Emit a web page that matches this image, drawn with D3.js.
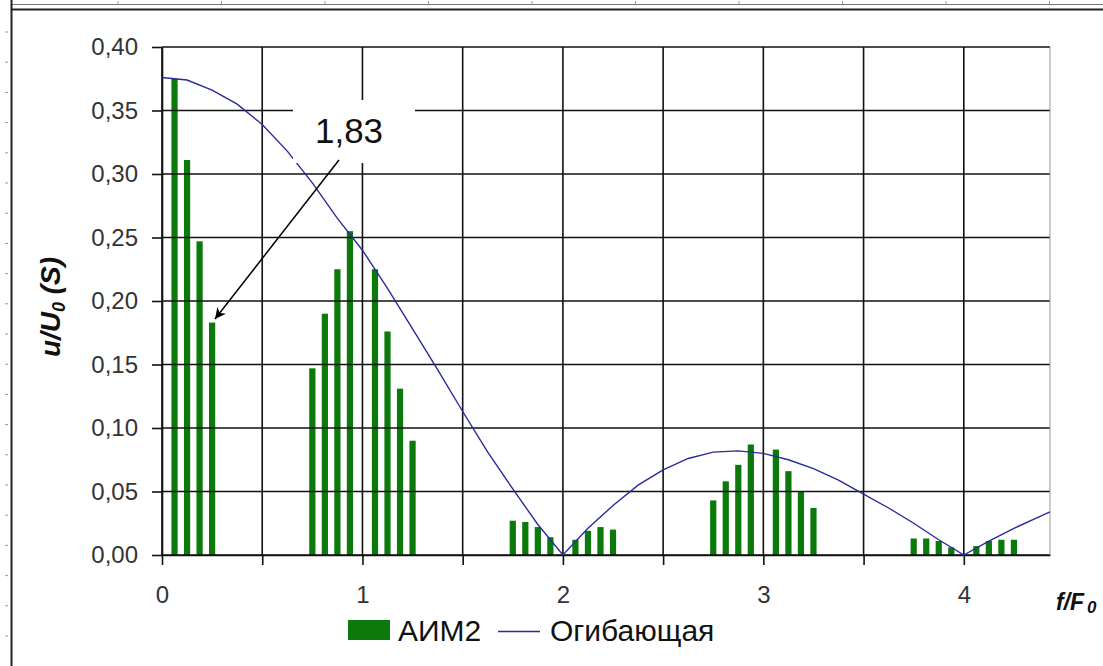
<!DOCTYPE html>
<html>
<head>
<meta charset="utf-8">
<script src="https://cdn.jsdelivr.net/npm/d3@7"></script>
<style>
  body { margin: 0; background: #fff; }
  svg { display: block; font-family: "Liberation Sans", Arial, sans-serif; }
</style>
</head>
<body>
<svg width="1103" height="666"></svg>
<script>
// АИМ2 spectrum lines (f/F0) and their amplitudes u/U0
const barFreqs = [
  0.0625, 0.125, 0.1875, 0.25,
  0.75, 0.8125, 0.875, 0.9375, 1.0625, 1.125, 1.1875, 1.25,
  1.75, 1.8125, 1.875, 1.9375, 2.0625, 2.125, 2.1875, 2.25,
  2.75, 2.8125, 2.875, 2.9375, 3.0625, 3.125, 3.1875, 3.25,
  3.75, 3.8125, 3.875, 3.9375, 4.0625, 4.125, 4.1875, 4.25
];
const barValues = [
  0.375, 0.311, 0.247, 0.183,
  0.147, 0.190, 0.225, 0.255, 0.225, 0.176, 0.131, 0.090,
  0.027, 0.026, 0.022, 0.014, 0.012, 0.019, 0.022, 0.020,
  0.043, 0.058, 0.071, 0.087, 0.083, 0.066, 0.050, 0.037,
  0.013, 0.013, 0.011, 0.006, 0.007, 0.011, 0.012, 0.012
];

// envelope (Огибающая)
const envFreqs = [0, 0.125, 0.25, 0.375, 0.5, 0.625, 0.75, 0.875, 1, 1.125, 1.25, 1.375,
  1.5, 1.625, 1.75, 1.875, 2, 2.125, 2.25, 2.375, 2.5, 2.625, 2.75, 2.875, 3, 3.125,
  3.25, 3.375, 3.5, 3.625, 3.75, 3.875, 4, 4.125, 4.25, 4.375, 4.43];
const envValues = [0.376, 0.374, 0.366, 0.355, 0.339, 0.318, 0.293, 0.265, 0.240, 0.210,
  0.178, 0.146, 0.113, 0.081, 0.052, 0.024, 0.000, 0.021, 0.039, 0.055, 0.067, 0.076,
  0.081, 0.082, 0.080, 0.075, 0.068, 0.059, 0.048, 0.037, 0.025, 0.012, 0.000, 0.011,
  0.021, 0.030, 0.034];

const xTicks = [0, 0.5, 1, 1.5, 2, 2.5, 3, 3.5, 4];
const yTicks = [0, 0.05, 0.10, 0.15, 0.20, 0.25, 0.30, 0.35, 0.40];
const seriesNames = ["АИМ2", "Огибающая"];
const noteText = "1,83";

const svg = d3.select("svg");
const barColor = "#0b7a0b";
const lineColor = "#2a2a9e";

const x = d3.scaleLinear().domain([0, 4.43]).range([162, 1050]);
const y = d3.scaleLinear().domain([0, 0.4]).range([555, 47]);
const barW = x(0.031) - x(0);

// slide frame (screenshot edge)
const frame = svg.append("g");
frame.append("line").attr("x1", 11).attr("x2", 1103).attr("y1", 4.5).attr("y2", 4.5)
  .attr("stroke", "#777").attr("stroke-width", 1);
frame.append("line").attr("x1", 11).attr("x2", 1103).attr("y1", 9.5).attr("y2", 9.5)
  .attr("stroke", "#222").attr("stroke-width", 2);
frame.append("line").attr("x1", 11.5).attr("x2", 11.5).attr("y1", 0).attr("y2", 666)
  .attr("stroke", "#222").attr("stroke-width", 2);
frame.selectAll(".rt").data(d3.range(32, 666, 30.2)).join("line")
  .attr("x1", 5).attr("x2", 8).attr("y1", d => d).attr("y2", d => d)
  .attr("stroke", "#999");
frame.selectAll(".tt").data(d3.range(118, 1103, 103.5)).join("line")
  .attr("x1", d => d).attr("x2", d => d).attr("y1", 1).attr("y2", 4)
  .attr("stroke", "#999");

// bars
svg.append("g").selectAll("rect").data(barFreqs).join("rect")
  .attr("x", d => x(d) - barW / 2)
  .attr("width", barW)
  .attr("y", (d, i) => y(barValues[i]))
  .attr("height", (d, i) => y(0) - y(barValues[i]))
  .attr("fill", barColor);

// grid
const grid = svg.append("g").attr("stroke", "#111").attr("stroke-width", 1.6);
grid.selectAll(".h").data(yTicks).join("line")
  .attr("x1", x(0)).attr("x2", x(4.43))
  .attr("y1", d => y(d)).attr("y2", d => y(d));
grid.selectAll(".v").data(xTicks).join("line")
  .attr("x1", d => x(d)).attr("x2", d => x(d))
  .attr("y1", y(0.4)).attr("y2", y(0));
svg.append("line").attr("x1", x(4.43)).attr("x2", x(4.43))
  .attr("y1", y(0.4)).attr("y2", y(0))
  .attr("stroke", "#999").attr("stroke-width", 1);

// axes
const fmt = d => d3.format(".2f")(d).replace(".", ",");
const yAxis = svg.append("g").attr("transform", `translate(${x(0)},0)`)
  .call(d3.axisLeft(y).tickValues(yTicks).tickFormat(fmt).tickSize(10).tickSizeOuter(0).tickPadding(14));
const xAxis = svg.append("g").attr("transform", `translate(0,${y(0)})`)
  .call(d3.axisBottom(x).tickValues(xTicks)
    .tickFormat(d => Number.isInteger(d) ? d : "").tickSize(10).tickSizeOuter(0).tickPadding(21));
[yAxis, xAxis].forEach(a => {
  a.select(".domain").attr("stroke", "#111").attr("stroke-width", 1.6);
  a.selectAll(".tick line").attr("stroke", "#111").attr("stroke-width", 1.6);
  a.selectAll("text").attr("font-size", 24).attr("fill", "#333")
    .attr("font-family", "Liberation Sans, Arial, sans-serif");
});

// envelope line
const line = d3.line().x(d => x(d)).y((d, i) => y(envValues[i]));
svg.append("path").datum(envFreqs)
  .attr("d", line)
  .attr("fill", "none")
  .attr("stroke", lineColor)
  .attr("stroke-width", 1.4);

// annotation
svg.append("defs").append("marker")
  .attr("id", "arr").attr("viewBox", "0 0 10 10").attr("refX", 10).attr("refY", 5)
  .attr("markerWidth", 11).attr("markerHeight", 11).attr("markerUnits", "userSpaceOnUse")
  .attr("orient", "auto")
  .append("path").attr("d", "M0,0 L10,5 L0,10 L3,5 Z").attr("fill", "#000");
svg.append("rect").attr("x", 293).attr("y", 100).attr("width", 122).attr("height", 63)
  .attr("fill", "#fff");
svg.append("text").attr("x", 349).attr("y", 143).attr("text-anchor", "middle")
  .attr("font-size", 35).attr("fill", "#111").text(noteText);
svg.append("line").attr("x1", 339).attr("y1", 160).attr("x2", 215).attr("y2", 319)
  .attr("stroke", "#000").attr("stroke-width", 1.5).attr("marker-end", "url(#arr)");

// axis titles
const yt = svg.append("text").attr("transform", "translate(60,307) rotate(-90)")
  .attr("text-anchor", "middle").attr("font-size", 28).attr("font-weight", "bold")
  .attr("font-style", "italic").attr("fill", "#111");
yt.append("tspan").text("u/U");
yt.append("tspan").attr("font-size", 18).attr("dy", 5).text("0");
yt.append("tspan").attr("dy", -5).text(" (S)");

const xt = svg.append("text").attr("x", 1056).attr("y", 610)
  .attr("font-size", 23).attr("font-weight", "bold").attr("font-style", "italic").attr("fill", "#111");
xt.append("tspan").text("f/F");
xt.append("tspan").attr("font-size", 17).attr("dx", 3).attr("dy", 3).text("0");

// legend
const lg = svg.append("g");
lg.append("rect").attr("x", 348).attr("y", 620).attr("width", 42).attr("height", 20).attr("fill", barColor);
lg.append("text").attr("x", 398).attr("y", 641).attr("font-size", 30).attr("fill", "#111").text(seriesNames[0]);
lg.append("line").attr("x1", 498).attr("x2", 540).attr("y1", 631.5).attr("y2", 631.5)
  .attr("stroke", lineColor).attr("stroke-width", 1.6);
lg.append("text").attr("x", 550).attr("y", 641).attr("font-size", 30).attr("fill", "#111").text(seriesNames[1]);
</script>
</body>
</html>
